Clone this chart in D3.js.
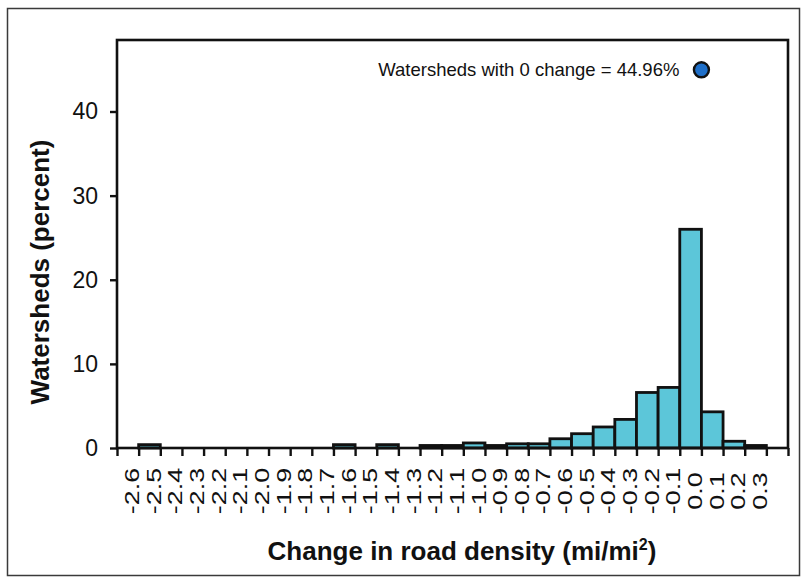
<!DOCTYPE html>
<html>
<head>
<meta charset="utf-8">
<script src="https://cdn.jsdelivr.net/npm/d3@7"></script>
<style>
  html, body { margin: 0; padding: 0; background: #fff; }
  svg { display: block; font-family: "Liberation Sans", Arial, Helvetica, sans-serif; }
</style>
</head>
<body>
<svg id="chart" width="806" height="579"></svg>
<script>
// Histogram of change in road density per watershed (mi/mi²)
const categories = ["-2.6","-2.5","-2.4","-2.3","-2.2","-2.1","-2.0","-1.9","-1.8","-1.7",
                    "-1.6","-1.5","-1.4","-1.3","-1.2","-1.1","-1.0","-0.9","-0.8","-0.7",
                    "-0.6","-0.5","-0.4","-0.3","-0.2","-0.1","0.0","0.1","0.2","0.3"];
const percents   = [0, 0.4, 0, 0, 0, 0, 0, 0, 0, 0,
                    0.4, 0, 0.4, 0, 0.3, 0.3, 0.6, 0.3, 0.5, 0.5,
                    1.1, 1.7, 2.5, 3.4, 6.6, 7.2, 26.0, 4.3, 0.8, 0.3];
const yTicks = [0, 10, 20, 30, 40];
const zeroChangeLabel = "Watersheds with 0 change = 44.96%";
const zeroChangePct = 44.96;
const xExtent = [-2.7, 0.4];   // value range of the plot frame
const yMax = 48.5;

const svg = d3.select("#chart");
const plot = { left: 117, right: 788, top: 40, bottom: 448 };

// outer frame
svg.append("rect")
  .attr("x", 7.5).attr("y", 8.5).attr("width", 792).attr("height", 567)
  .attr("fill", "none").attr("stroke", "#3a3a3a").attr("stroke-width", 1.5);

const xLin = d3.scaleLinear().domain(xExtent).range([plot.left, plot.right]);
const x = d3.scaleBand().domain(categories)
  .range([xLin(-2.7), xLin(0.3)]).paddingInner(0).paddingOuter(0);
const y = d3.scaleLinear().domain([0, yMax]).range([plot.bottom, plot.top]);

// bars
svg.append("g").selectAll("rect")
  .data(categories.map((c, i) => ({ c, v: percents[i] })))
  .join("rect")
  .attr("x", d => x(d.c))
  .attr("y", d => y(d.v))
  .attr("width", x.bandwidth())
  .attr("height", d => y(0) - y(d.v))
  .attr("fill", "#5cc6d9")
  .attr("stroke", "#111")
  .attr("stroke-width", 2.8);

// plot frame
svg.append("rect")
  .attr("x", plot.left).attr("y", plot.top)
  .attr("width", plot.right - plot.left).attr("height", plot.bottom - plot.top)
  .attr("fill", "none").attr("stroke", "#111").attr("stroke-width", 2.6);

// x boundary ticks
const bounds = d3.range(categories.length + 2).map(i => xExtent[0] + i * 0.1);
svg.append("g")
  .attr("transform", `translate(0,${plot.bottom})`)
  .call(d3.axisBottom(xLin).tickValues(bounds).tickSize(8).tickFormat(""))
  .call(g => g.select(".domain").remove())
  .call(g => g.selectAll("line").attr("stroke", "#111").attr("stroke-width", 2.4));

// x category labels, rotated and drawn tall
svg.append("g")
  .attr("transform", `translate(0,${plot.bottom})`)
  .call(d3.axisBottom(x).tickSize(0).tickPadding(0))
  .call(g => g.select(".domain").remove())
  .call(g => g.selectAll("text")
    .attr("transform", "translate(4,43) rotate(-90) scale(1.28,1)")
    .attr("y", 0).attr("dy", "0.35em")
    .attr("text-anchor", "middle")
    .attr("font-size", 21)
    .attr("font-family", "Liberation Sans, Arial, sans-serif")
    .attr("fill", "#111"));

// y axis
svg.append("g")
  .attr("transform", `translate(${plot.left},0)`)
  .call(d3.axisLeft(y).tickValues(yTicks).tickSize(7).tickPadding(12).tickFormat(d3.format("d")))
  .call(g => g.select(".domain").remove())
  .call(g => g.selectAll("line").attr("stroke", "#111").attr("stroke-width", 2.4))
  .call(g => g.selectAll("text")
    .attr("font-size", 23)
    .attr("font-family", "Liberation Sans, Arial, sans-serif")
    .attr("fill", "#111"));

// zero-change marker and its label
svg.append("circle")
  .attr("cx", xLin(0)).attr("cy", y(zeroChangePct)).attr("r", 7.5)
  .attr("fill", "#1f6fc8").attr("stroke", "#111").attr("stroke-width", 2.4);
svg.append("text")
  .attr("x", xLin(0) - 22).attr("y", y(zeroChangePct))
  .attr("dy", "0.35em").attr("text-anchor", "end")
  .attr("font-size", 18.5).attr("fill", "#111")
  .text(zeroChangeLabel);

// axis titles
svg.append("text")
  .attr("transform", `translate(40,${(plot.top + plot.bottom) / 2 + 28}) rotate(-90)`)
  .attr("text-anchor", "middle").attr("dy", "0.35em")
  .attr("font-size", 26).attr("font-weight", "bold").attr("fill", "#111")
  .text("Watersheds (percent)");

const xt = svg.append("text")
  .attr("x", 462).attr("y", 560)
  .attr("text-anchor", "middle")
  .attr("font-size", 26).attr("font-weight", "bold").attr("fill", "#111");
xt.append("tspan").text("Change in road density (mi/mi");
xt.append("tspan").attr("font-size", 16).attr("dy", -10).text("2");
xt.append("tspan").attr("dy", 10).text(")");
</script>
</body>
</html>
